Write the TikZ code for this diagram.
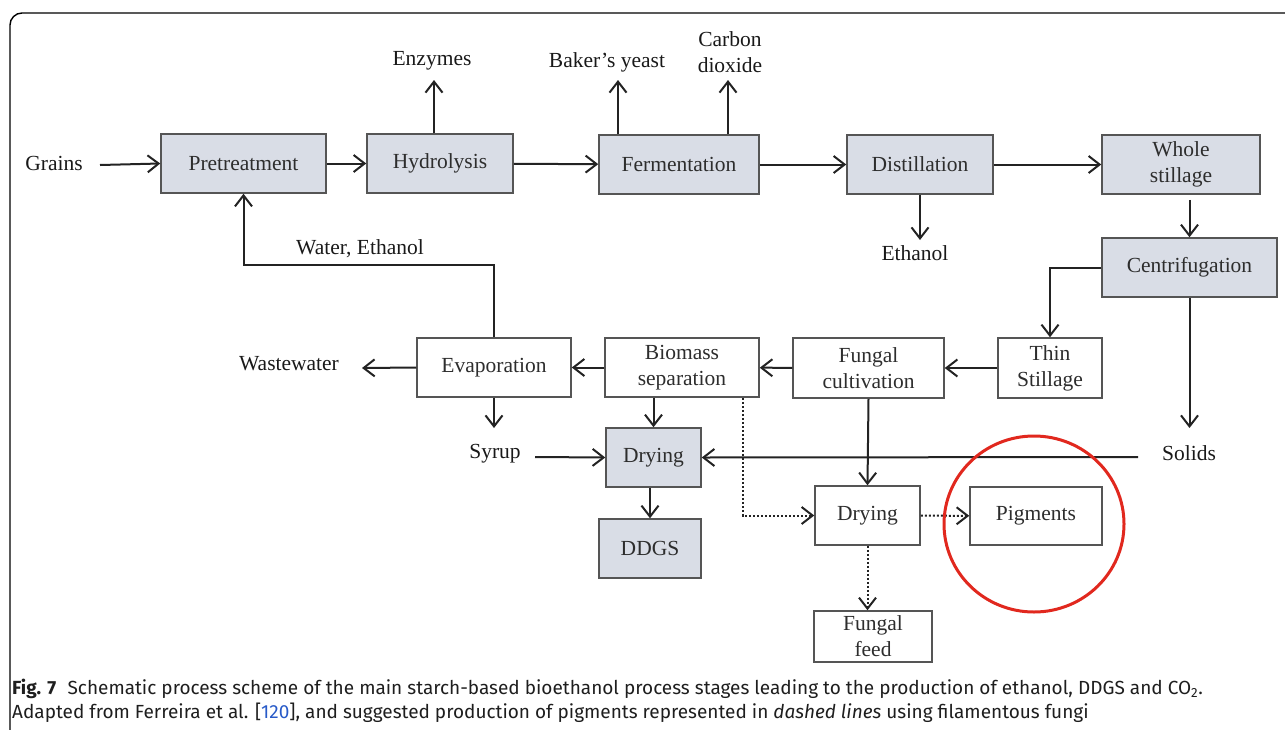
\documentclass[tikz,border=0pt]{standalone}
\usepackage{fontspec}
\setmainfont{Liberation Serif}
\newfontfamily\capfont{Fira Sans}
\usetikzlibrary{arrows.meta}
\definecolor{boxfill}{RGB}{217,221,230}
\definecolor{boxdraw}{RGB}{85,85,85}
\definecolor{boxtext}{RGB}{45,45,45}
\definecolor{arrowc}{RGB}{35,35,35}
\definecolor{circred}{RGB}{225,40,30}
\definecolor{linkblue}{RGB}{40,90,200}
\definecolor{captext}{RGB}{30,30,30}
\begin{document}
\begin{tikzpicture}[x=1pt,y=-1pt,
  arr/.style={draw=arrowc, line width=2pt, -{Straight Barb[length=11pt,width=17pt]}},
  dots/.style={arr, dash pattern=on 2pt off 2pt},
  base/.style={draw=boxdraw, line width=1.5pt, inner sep=0pt, font=\fontsize{21.5}{26}\selectfont, text=boxtext, align=center},
  gbox/.style={base, fill=boxfill},
  wbox/.style={base, fill=white},
  lab/.style={inner sep=0pt, font=\fontsize{21.5}{26}\selectfont, text=black!90, align=center},
  capstyle/.style={anchor=base west, inner sep=0pt, font=\capfont\fontsize{19}{24}\selectfont, text=captext}
]
\useasboundingbox (0,0) rectangle (1285,729);
\clip (0,0) rectangle (1285,729);
\draw[line width=1.4pt, rounded corners=12pt] (10,13) rectangle (1300,745);

% boxes
\node[gbox, minimum width=165, minimum height=59] (pre) at (243.5,163.5) {Pretreatment};
\node[gbox, minimum width=146, minimum height=59] (hyd) at (440,163.5) {Hydrolysis};
\node[gbox, minimum width=160, minimum height=59] (fer) at (679,164.5) {Fermentation};
\node[gbox, minimum width=146, minimum height=59] (dis) at (920,164.5) {Distillation};
\node[gbox, minimum width=158, minimum height=59] (whole) at (1181,164.5) {Whole\\stillage};
\node[gbox, minimum width=175, minimum height=59] (cen) at (1189.5,267.5) {Centrifugation};
\node[wbox, minimum width=154, minimum height=59] (eva) at (494,367.5) {Evaporation};
\node[wbox, minimum width=154, minimum height=59] (bio) at (682,367.5) {Biomass\\separation};
\node[wbox, minimum width=151, minimum height=60] (fun) at (868.5,368) {Fungal\\cultivation};
\node[wbox, minimum width=104, minimum height=60] (thin) at (1050,368) {Thin\\Stillage};
\node[gbox, minimum width=95, minimum height=59] (dry1) at (653.5,457.5) {Drying};
\node[wbox, minimum width=105, minimum height=59] (dry2) at (867.5,515.5) {Drying};
\node[wbox, minimum width=132, minimum height=58] (pig) at (1036,516) {Pigments};
\node[gbox, minimum width=102, minimum height=59] (ddgs) at (650,548.5) {DDGS};
\node[wbox, minimum width=118, minimum height=51] (feed) at (873,636.5) {Fungal\\feed};

% labels
\node[lab] (grains) at (54,163) {Grains};
\node[lab] (enz) at (432,61) {Enzymes};
\node[lab] (bak) at (607,62) {Baker’s yeast};
\node[lab] (co2) at (730,52) {Carbon\\dioxide};
\node[lab] (eth) at (915,253) {Ethanol};
\node[lab] (we) at (360,249) {Water, Ethanol};
\node[lab] (ww) at (289,364) {Wastewater};
\node[lab] (syr) at (495,454) {Syrup};
\node[lab] (sol) at (1189,453) {Solids};

% free ends
\coordinate (grainsS) at (100,165);
\coordinate (enzT) at (434,80);
\coordinate (bakT) at (618,80);
\coordinate (co2T) at (728,80);
\coordinate (ethT) at (920,240);
\coordinate (solT) at (1189.5,428);
\coordinate (solS) at (1138,457);
\coordinate (wwT) at (362,368);
\coordinate (weC) at (243.5,265);
\coordinate (syrT) at (494,428);
\coordinate (syrS) at (535,457);
\coordinate (bdot) at (743,516);

% connectors
\draw[arr] (grainsS) -- (pre.west);
\draw[arr] (pre) -- (hyd);
\draw[arr] (hyd) -- (fer);
\draw[arr] (fer) -- (dis);
\draw[arr] (dis) -- (whole);
\draw[arr] (hyd.north -| enzT) -- (enzT);
\draw[arr] (fer.north -| bakT) -- (bakT);
\draw[arr] (fer.north -| co2T) -- (co2T);
\draw[arr] (dis.south) -- (ethT);
\draw[arr] ([yshift=-5pt]whole.south -| cen.north) -- (cen.north);
\draw[arr] (cen.west) -| (thin.north);
\draw[arr] (cen.south) -- (solT);
\draw[arr] (solS) -- (dry1.east);
\draw[arr] (thin) -- (fun);
\draw[arr] (fun) -- (bio);
\draw[arr] (bio) -- (eva);
\draw[arr] (eva.west) -- (wwT);
\draw[arr] (eva.north) |- (weC) -- (pre.south);
\draw[arr] (eva.south) -- (syrT);
\draw[arr] (syrS) -- (dry1.west);
\draw[arr] (bio.south -| dry1.north) -- (dry1.north);
\draw[arr] (dry1.south -| ddgs.north) -- (ddgs.north);
\draw[arr] (fun.south) -- (dry2.north);
\draw[dots] (bio.south -| bdot) |- (dry2.west);
\draw[dots] (dry2) -- (pig);
\draw[dots] (dry2.south) -- (dry2.south |- feed.north);

% red circle
\draw[circred, line width=3pt] (1034,524) ellipse [x radius=90, y radius=88];

% caption
\node[capstyle] (cap1) at (12,694) {\textbf{Fig. 7}\hspace{0.6em}Schematic process scheme of the main starch-based bioethanol process stages leading to the production of ethanol, DDGS and CO\textsubscript{2}.};
\node[capstyle] (cap2) at (12,718) {Adapted from Ferreira et al. [\textcolor{linkblue}{120}], and suggested production of pigments represented in \textit{dashed lines} using filamentous fungi};
\end{tikzpicture}
\end{document}
